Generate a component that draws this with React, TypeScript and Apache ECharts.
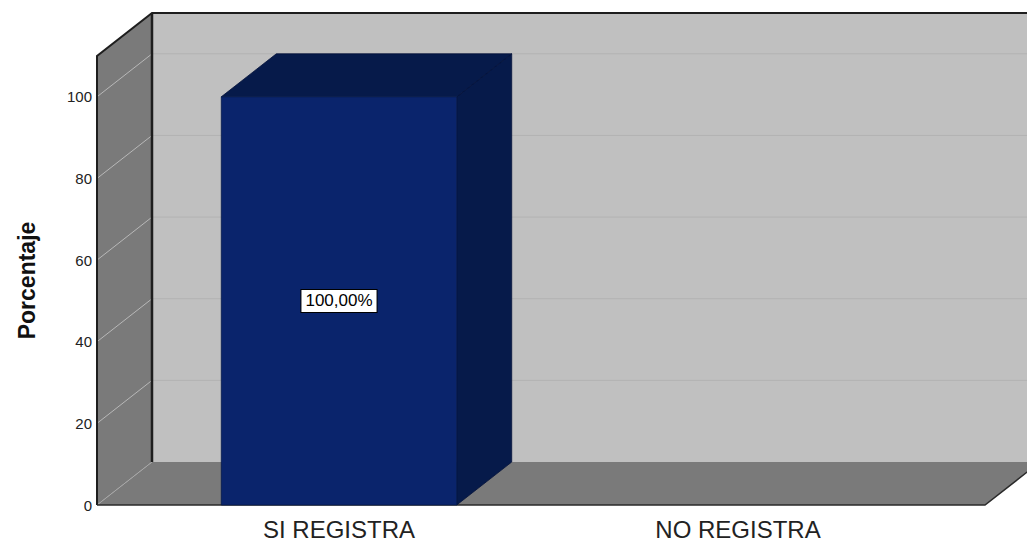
import React, { useEffect, useRef } from "react";
import * as echarts from "echarts";

const categories = ["SI REGISTRA", "NO REGISTRA"];
const percentages = [100, 0];
const yTicks = [20, 40, 60, 80, 100];

const DX = 55;
const DY = 43;
const BAR_W = 0.59;

export default function App() {
  const ref = useRef<HTMLDivElement>(null);
  useEffect(() => {
    if (!ref.current) return;
    document.body.style.margin = "0";
    const chart = echarts.init(ref.current, null, { renderer: "svg" });
    const option: any = {
      animation: false,
      backgroundColor: "#ffffff",
      grid: { left: 97, right: 42, top: 56, bottom: 36 },
      xAxis: {
        type: "value",
        min: -0.6065,
        max: 1.619,
        axisLine: { show: false },
        axisTick: { show: false },
        splitLine: { show: false },
        axisLabel: {
          customValues: [0, 1],
          formatter: (v: number) => categories[Math.round(v)] ?? "",
          fontFamily: "Liberation Sans, Arial, sans-serif",
          fontSize: 24,
          color: "#222222",
          margin: 12,
        },
      },
      yAxis: {
        type: "value",
        min: 0,
        max: 110,
        interval: 20,
        name: "Porcentaje",
        nameLocation: "middle",
        nameRotate: 90,
        nameGap: 59,
        nameTextStyle: {
          fontFamily: "Liberation Sans, Arial, sans-serif",
          fontSize: 23,
          fontWeight: "bold",
          color: "#111111",
        },
        axisLine: { show: false },
        axisTick: { show: false },
        splitLine: { show: false },
        axisLabel: {
          showMaxLabel: false,
          fontFamily: "Liberation Sans, Arial, sans-serif",
          fontSize: 15,
          color: "#222222",
          margin: 5,
        },
      },
      series: [
        {
          type: "custom",
          z: 1,
          silent: true,
          data: [[0, 0]],
          renderItem: (params: any, api: any) => {
            const cs = params.coordSys;
            const x0 = cs.x;
            const x1 = cs.x + cs.width;
            const yT = cs.y;
            const yB = cs.y + cs.height;
            const children: any[] = [
              {
                type: "polygon",
                shape: { points: [[x0 + DX, yT - DY], [x1 + DX, yT - DY], [x1 + DX, yB - DY], [x0 + DX, yB - DY]] },
                style: { fill: "#c0c0c0" },
              },
              {
                type: "polygon",
                shape: { points: [[x0, yT], [x0 + DX, yT - DY], [x0 + DX, yB - DY], [x0, yB]] },
                style: { fill: "#7a7a7a" },
              },
              {
                type: "polygon",
                shape: { points: [[x0, yB], [x0 + DX, yB - DY], [x1 + DX, yB - DY], [x1, yB]] },
                style: { fill: "#7a7a7a" },
              },
            ];
            yTicks.forEach((v) => {
              const y = api.coord([0, v])[1];
              children.push({
                type: "line",
                shape: { x1: x0 + DX, y1: y - DY, x2: x1 + DX, y2: y - DY },
                style: { stroke: "#b2b2b2", lineWidth: 1 },
              });
              children.push({
                type: "line",
                shape: { x1: x0, y1: y, x2: x0 + DX, y2: y - DY },
                style: { stroke: "#b8b8b8", lineWidth: 1 },
              });
            });
            children.push({
              type: "line",
              shape: { x1: x0, y1: yB, x2: x0 + DX, y2: yB - DY },
              style: { stroke: "#a8a8a8", lineWidth: 1 },
            });
            children.push({
              type: "polyline",
              shape: { points: [[x0, yB], [x0, yT], [x0 + DX, yT - DY], [x1 + DX, yT - DY]] },
              style: { stroke: "#1e1e1e", lineWidth: 2, fill: null },
            });
            children.push({
              type: "line",
              shape: { x1: x0 + DX, y1: yT - DY, x2: x0 + DX, y2: yB - DY },
              style: { stroke: "#1e1e1e", lineWidth: 2.5 },
            });
            children.push({
              type: "polyline",
              shape: { points: [[x0, yB], [x1, yB], [x1 + DX, yB - DY]] },
              style: { stroke: "#2a2a2a", lineWidth: 1.5, fill: null },
            });
            return { type: "group", children };
          },
        },
        {
          type: "custom",
          z: 2,
          data: percentages.map((v, i) => [i, v]),
          renderItem: (params: any, api: any) => {
            const i = api.value(0);
            const v = api.value(1);
            if (!v) return { type: "group", children: [] };
            const w = api.size([BAR_W, 0])[0];
            const top = api.coord([i, v]);
            const bot = api.coord([i, 0]);
            const mid = api.coord([i, v / 2]);
            const xl = top[0] - w / 2;
            const xr = top[0] + w / 2;
            const label = v.toFixed(2).replace(".", ",") + "%";
            return {
              type: "group",
              children: [
                {
                  type: "polygon",
                  shape: { points: [[xr, top[1]], [xr + DX, top[1] - DY], [xr + DX, bot[1] - DY], [xr, bot[1]]] },
                  style: { fill: "#061a4a", stroke: "#04123a", lineWidth: 0.8 },
                },
                {
                  type: "polygon",
                  shape: { points: [[xl, top[1]], [xl + DX, top[1] - DY], [xr + DX, top[1] - DY], [xr, top[1]]] },
                  style: { fill: "#061a4a", stroke: "#04123a", lineWidth: 0.8 },
                },
                {
                  type: "rect",
                  shape: { x: xl, y: top[1], width: w, height: bot[1] - top[1] },
                  style: { fill: "#0a246c", stroke: "#061a4a", lineWidth: 0.8 },
                },
                {
                  type: "text",
                  x: mid[0],
                  y: mid[1],
                  style: {
                    text: label,
                    align: "center",
                    verticalAlign: "middle",
                    fontFamily: "Liberation Sans, Arial, sans-serif",
                    fontSize: 17,
                    fill: "#000000",
                    backgroundColor: "#ffffff",
                    borderColor: "#000000",
                    borderWidth: 1,
                    padding: [3, 4, 2, 4],
                  },
                },
              ],
            };
          },
        },
      ],
    };
    chart.setOption(option);
    return () => chart.dispose();
  }, []);
  return <div ref={ref} style={{ width: 1027, height: 541 }} />;
}
